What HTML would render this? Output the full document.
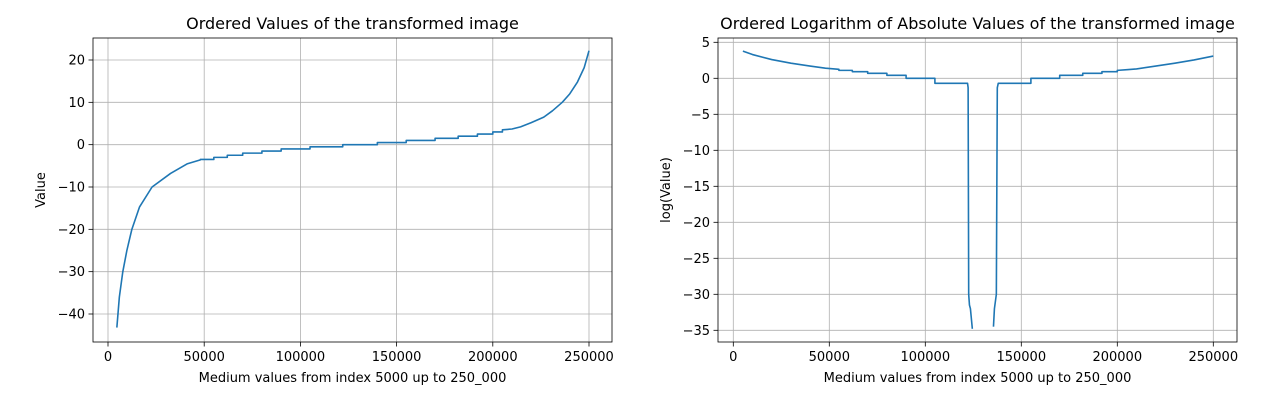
<!DOCTYPE html>
<html><head><meta charset="utf-8"><style>
html,body{margin:0;padding:0;background:#fff;}
svg{display:block;font-family:"DejaVu Sans","Liberation Sans",sans-serif;}
</style></head><body>
<svg id="chart" width="1269" height="400"></svg>
<script>
// Left panel data (x in index units, value)
const leftX = [4600,5900,7700,9800,12400,16400,22900,32500,41300,48000,48000,55000,55000,62000,62000,70000,70000,80000,80000,90000,90000,105000,105000,122000,122000,140000,140000,155000,155000,170000,170000,182000,182000,192000,192000,200000,200000,205000,205000,210000,214400,220000,226500,231000,236100,240000,244000,247500,250000];
const leftY = [-43.2,-36,-30,-25,-20,-14.7,-10,-6.8,-4.5,-3.6,-3.5,-3.5,-3,-3,-2.5,-2.5,-2,-2,-1.5,-1.5,-1,-1,-0.5,-0.5,0,0,0.5,0.5,1,1,1.5,1.5,2,2,2.5,2.5,3,3,3.5,3.7,4.2,5.2,6.5,8,10,12,14.8,18.2,22.2];
// Right panel data, two segments (gap where values are exactly zero)
const rightX1 = [5000,10000,20000,30000,40000,48000,55000,55000,62000,62000,70000,70000,80000,80000,90000,90000,105000,105000,122000,122300,122600,123000,123500,124500];
const rightY1 = [3.77,3.3,2.6,2.1,1.7,1.4,1.25,1.1,1.1,0.92,0.92,0.69,0.69,0.41,0.41,0,0,-0.69,-0.69,-1.3,-30,-31.5,-32,-34.8];
const rightX2 = [135500,136000,137000,137500,138000,155000,155000,170000,170000,182000,182000,192000,192000,200000,200000,205000,210000,220000,230000,240000,250000];
const rightY2 = [-34.5,-32,-30,-1.3,-0.69,-0.69,0,0,0.41,0.41,0.69,0.69,0.92,0.92,1.1,1.2,1.3,1.7,2.1,2.55,3.09];
const leftXTicks = [0,50000,100000,150000,200000,250000];
const leftYTicks = [-40,-30,-20,-10,0,10,20];
const rightXTicks = [0,50000,100000,150000,200000,250000];
const rightYTicks = [-35,-30,-25,-20,-15,-10,-5,0,5];

const NS="http://www.w3.org/2000/svg";
const svg=document.getElementById('chart');
function mk(tag,attrs,parent){const e=document.createElementNS(NS,tag);for(const k in attrs)e.setAttribute(k,attrs[k]);(parent||svg).appendChild(e);return e;}

function panel(cfg){
  const g=mk('g',{});
  
  
  const sx=v=>cfg.x0+(v-cfg.xmin)/(cfg.xmax-cfg.xmin)*(cfg.x1-cfg.x0);
  const sy=v=>cfg.y0+(cfg.ymax-v)/(cfg.ymax-cfg.ymin)*(cfg.y1-cfg.y0);
  cfg.xt.forEach(t=>{
    const X=sx(t);
    const l=mk('line',{x1:X,x2:X,y1:cfg.ay0,y2:cfg.ay1,stroke:'#b0b0b0','stroke-width':0.8},g);
    
    mk('line',{x1:X,x2:X,y1:cfg.ay1,y2:cfg.ay1+4.5,stroke:'#000','stroke-width':0.8},g);
    const tx=mk('text',{x:X,y:cfg.ay1+19,'font-size':13,'text-anchor':'middle',fill:'#000'},g);
    tx.textContent=t;
    
  });
  cfg.yt.forEach(t=>{
    const Y=sy(t);
    const l=mk('line',{x1:cfg.ax0,x2:cfg.ax1,y1:Y,y2:Y,stroke:'#b0b0b0','stroke-width':0.8},g);
    
    mk('line',{x1:cfg.ax0-4.5,x2:cfg.ax0,y1:Y,y2:Y,stroke:'#000','stroke-width':0.8},g);
    const tx=mk('text',{x:cfg.ax0-8,y:Y+4.5,'font-size':13,'text-anchor':'end',fill:'#000'},g);
    tx.textContent=(t<0?'\u2212'+(-t):t);
    
  });
  cfg.series.forEach(s=>{
    const pts=s[0].map((x,i)=>sx(x).toFixed(2)+','+sy(s[1][i]).toFixed(2)).join(' ');
    const p=mk('polyline',{points:pts,fill:'none',stroke:'#1f77b4','stroke-width':1.6,'stroke-linejoin':'round'},g);
    
  });
  const r=mk('rect',{x:cfg.ax0,y:cfg.ay0,width:cfg.ax1-cfg.ax0,height:cfg.ay1-cfg.ay0,fill:'none',stroke:'#000','stroke-width':0.8},g);
  
  const ti=mk('text',{x:(cfg.ax0+cfg.ax1)/2,y:29,'font-size':16,'text-anchor':'middle',fill:'#000'},g);
  ti.textContent=cfg.title;
  const xl=mk('text',{x:(cfg.ax0+cfg.ax1)/2,y:382,'font-size':13,'text-anchor':'middle',fill:'#000'},g);
  xl.textContent='Medium values from index 5000 up to 250_000';
  const yl=mk('text',{x:cfg.ylx,y:(cfg.ay0+cfg.ay1)/2,'font-size':13,'text-anchor':'middle',fill:'#000',transform:`rotate(-90 ${cfg.ylx} ${(cfg.ay0+cfg.ay1)/2})`},g);
  yl.textContent=cfg.ylabel;
}
panel({name:'left-chart',ax0:93,ax1:612,ay0:38,ay1:342,
  xmin:0,xmax:250000,x0:108,x1:589,ymin:-40,ymax:20,y0:60,y1:314,
  xt:leftXTicks,yt:leftYTicks,series:[[leftX,leftY]],
  title:'Ordered Values of the transformed image',ylabel:'Value',ylx:45});
panel({name:'right-chart',ax0:718,ax1:1237,ay0:38,ay1:342,
  xmin:0,xmax:250000,x0:733.3,x1:1213.3,ymin:-35,ymax:5,y0:42.3,y1:330.3,
  xt:rightXTicks,yt:rightYTicks,series:[[rightX1,rightY1],[rightX2,rightY2]],
  title:'Ordered Logarithm of Absolute Values of the transformed image',ylabel:'log(Value)',ylx:670});
</script>
</body></html>
